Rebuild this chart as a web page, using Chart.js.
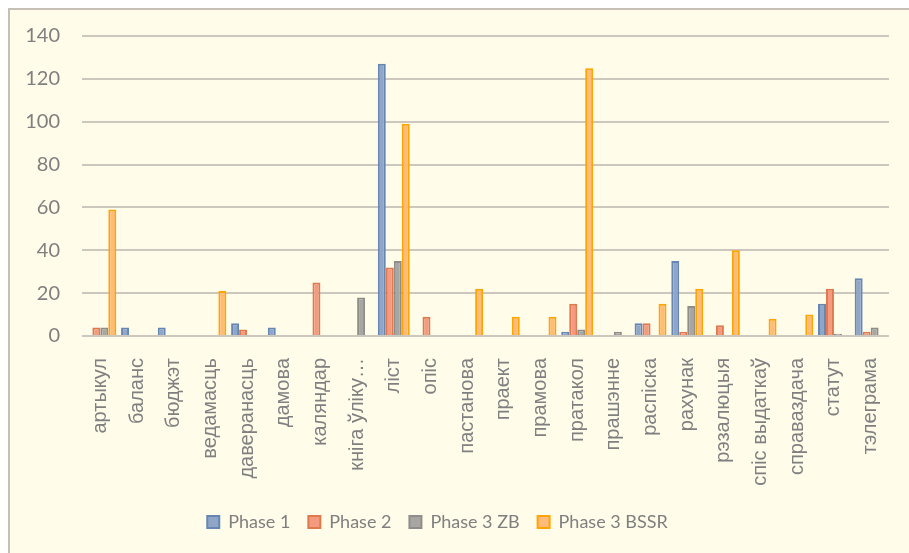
<!DOCTYPE html>
<html>
<head>
<meta charset="utf-8">
<script src="https://cdn.jsdelivr.net/npm/chart.js@4"></script>
<style>
  html, body { margin: 0; padding: 0; background: #ffffff; }
  #wrap { width: 909px; height: 553px; position: relative; }
</style>
</head>
<body>
<div id="wrap"><canvas id="c" width="909" height="553"></canvas></div>
<script>
const categories = ['артыкул','баланс','бюджэт','ведамасць','даверанасць','дамова','каляндар','кніга ўліку…','ліст','опіс','пастанова','праект','прамова','пратакол','прашэнне','распіска','рахунак','рэзалюцыя','спіс выдаткаў','справаздача','статут','тэлеграма'];
const seriesNames = ['Phase 1','Phase 2','Phase 3 ZB','Phase 3 BSSR'];
const phase1     = [0,4,4,0,6,4,0,0,127,0,0,0,0,2,0,6,35,0,0,0,15,27];
const phase2     = [4,0,0,0,3,0,25,0,32,9,0,0,0,15,0,6,2,5,0,0,22,2];
const phase3ZB   = [4,0,0,0,0,0,0,18,35,0,0,0,0,3,2,0,14,0,0,0,1,4];
const phase3BSSR = [59,0,0,21,0,0,0,0,99,0,22,9,9,125,0,15,22,40,8,10,0,0];
const yTicks = [0,20,40,60,80,100,120,140];

const fills   = ['#8fa6c9','#f39a7f','#a8a6a2','#ffbb7a'];
const borders = ['#6687b3','#df7a4f','#8f8d89','#ffa400'];

const bgPlugin = {
  id: 'bg',
  beforeDraw(chart) {
    const ctx = chart.ctx;
    ctx.save();
    ctx.fillStyle = '#ffffff';
    ctx.fillRect(0, 0, chart.width, chart.height);
    ctx.fillStyle = '#fffcea';
    ctx.fillRect(8, 8, chart.width - 8, chart.height - 8);
    ctx.strokeStyle = '#c6bfb6';
    ctx.lineWidth = 2;
    ctx.beginPath();
    ctx.moveTo(9, chart.height);
    ctx.lineTo(9, 9);
    ctx.lineTo(chart.width, 9);
    ctx.stroke();
    ctx.restore();
  }
};

const legendShift = {
  id: 'legendShift',
  afterLayout(chart) {
    if (chart.legend) {
      chart.legend.left -= 14;
      chart.legend.right -= 14;
    }
  }
};

new Chart(document.getElementById('c'), {
  type: 'bar',
  data: {
    labels: categories,
    datasets: [phase1, phase2, phase3ZB, phase3BSSR].map((d, i) => ({
      label: seriesNames[i],
      data: d,
      backgroundColor: fills[i],
      borderColor: borders[i],
      borderWidth: 2,
      categoryPercentage: 0.87,
      barPercentage: 1.0
    }))
  },
  options: {
    responsive: false,
    animation: false,
    devicePixelRatio: 1,
    layout: { padding: { left: 10, right: 16, top: 36, bottom: 12 } },
    plugins: {
      tooltip: { enabled: false },
      legend: {
        position: 'bottom',
        labels: {
          boxWidth: 12,
          boxHeight: 12,
          padding: 18,
          color: '#7f7f7f',
          font: { family: 'Lato', size: 18 }
        }
      }
    },
    scales: {
      x: {
        grid: { display: false },
        border: { display: false },
        ticks: {
          autoSkip: false,
          maxRotation: 90,
          minRotation: 90,
          padding: 14,
          color: '#808080',
          font: { family: 'Liberation Sans', size: 20 }
        },
        afterFit(scale) { scale.height = 159; }
      },
      y: {
        min: 0,
        max: 140,
        afterBuildTicks(scale) { scale.ticks = yTicks.map(v => ({ value: v })); },
        grid: { color: '#ccc8bd', lineWidth: 2, drawTicks: false },
        border: { display: false },
        ticks: {
          padding: 22,
          color: '#7f7f7f',
          font: { family: 'Lato', size: 20 }
        },
        afterFit(scale) { scale.width = 72; }
      }
    }
  },
  plugins: [bgPlugin, legendShift]
});
</script>
</body>
</html>
